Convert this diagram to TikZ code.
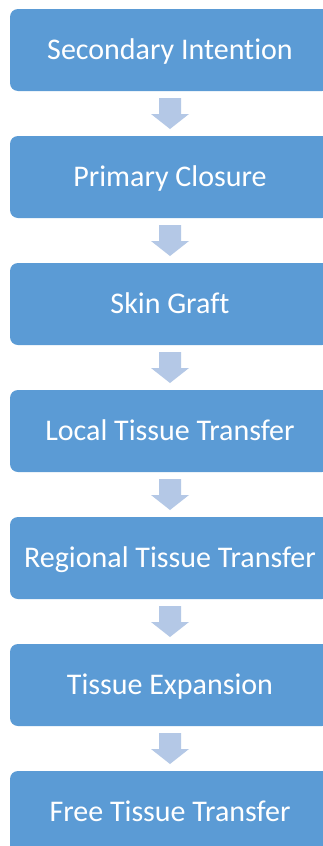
\documentclass[tikz,border=0pt]{standalone}
\usepackage{fontspec}
\setmainfont{Carlito}[Ligatures=NoCommon]
\usetikzlibrary{calc}
\definecolor{boxblue}{HTML}{5B9BD5}
\definecolor{arrowblue}{HTML}{B4C8E6}
\tikzset{
  stepbox/.style={fill=boxblue, draw=none, rounded corners=8pt, minimum width=320pt, minimum height=82pt, inner sep=0pt, text height=18pt, text depth=0pt, text=white, font=\fontsize{30}{34}\selectfont},
  downarrow/.style={fill=arrowblue, draw=none}
}
\begin{document}
\begin{tikzpicture}[x=1pt,y=-1pt]
\useasboundingbox (0,0) rectangle (323,846);
\clip (0,0) rectangle (323,846);
\fill[white] (0,0) rectangle (323,846);
\node[stepbox] (b1) at (170,50) {Secondary Intention};
\node[stepbox] (b2) at (170,177) {Primary Closure};
\node[stepbox] (b3) at (170,304) {Skin Graft};
\node[stepbox] (b4) at (170,431) {Local Tissue Transfer};
\node[stepbox] (b5) at (170,558) {Regional Tissue Transfer};
\node[stepbox] (b6) at (170,685) {Tissue Expansion};
\node[stepbox] (b7) at (170,812) {Free Tissue Transfer};
\foreach \a/\b in {b1/b2,b2/b3,b3/b4,b4/b5,b5/b6,b6/b7}{
  \coordinate (m\a) at ($(\a.south)!0.5!(\b.north)$);
  \fill[downarrow] ($(m\a)+(-11,-15.5)$) -- ($(m\a)+(11,-15.5)$) -- ($(m\a)+(11,0.5)$)
    -- ($(m\a)+(19,0.5)$) -- ($(m\a)+(0,15.5)$) -- ($(m\a)+(-19,0.5)$)
    -- ($(m\a)+(-11,0.5)$) -- cycle;
}
\end{tikzpicture}
\end{document}
